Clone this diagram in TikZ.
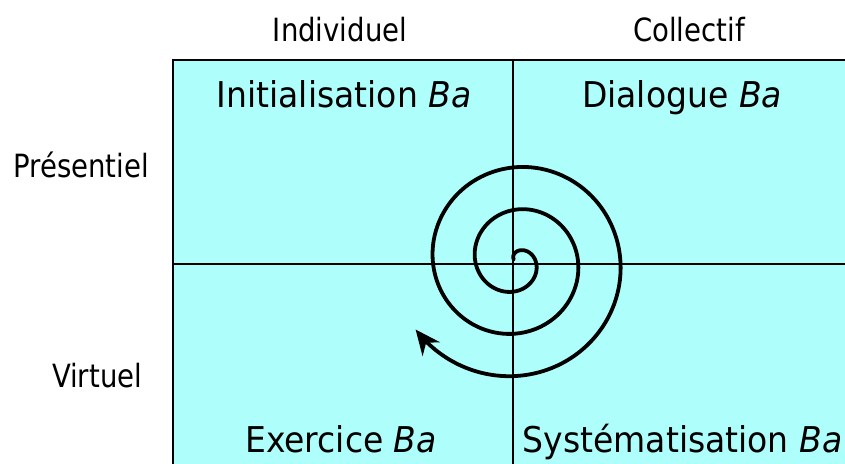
\documentclass[tikz,border=0pt]{standalone}
\usepackage{fontspec}
\setmainfont{DejaVu Sans}[FakeStretch=0.86]
\newfontfamily\quadfont{DejaVu Sans}[FakeStretch=0.93]
\usetikzlibrary{arrows.meta}
\definecolor{quadfill}{RGB}{174,255,252}
\tikzset{
  grid/.style={draw=black, line width=2.4pt},
  spiral/.style={draw=black, line width=3.8pt, line cap=round},
  head/.style={font=\fontsize{32}{36}\selectfont, anchor=base},
  quad/.style={font=\quadfont\fontsize{35.5}{40}\selectfont, anchor=base},
}
\begin{document}
\begin{tikzpicture}[x=1pt,y=-1pt]
\useasboundingbox (0,0) rectangle (845,463);
\clip (0,0) rectangle (845,463);
% quadrant box
\path[grid, fill=quadfill] (173,60) rectangle (855,470);
\coordinate (vtop) at (513,60);
\coordinate (vbot) at (513,470);
\coordinate (hleft) at (173,264);
\coordinate (hright) at (855,264);
\draw[grid] (vtop) -- (vbot);
\draw[grid] (hleft) -- (hright);
% axis labels
\node[head] (indiv) at (340,41.5) {Individuel};
\node[head] (coll) at (689,41.5) {Collectif};
\node[head] (pres) at (81,177) {Présentiel};
\node[head] (virt) at (97,387) {Virtuel};
% quadrant labels
\node[quad] (init) at (344,107.5) {Initialisation \textit{Ba}};
\node[quad] (dial) at (682,107.5) {Dialogue \textit{Ba}};
\node[quad] (exer) at (341,452.5) {Exercice \textit{Ba}};
\node[quad] (syst) at (682.5,452.5) {Systématisation \textit{Ba}};
% spiral
\draw[spiral, -{Stealth[length=25pt,width=22pt]}]
  plot[domain=-0.6:10.62, samples=300, smooth]
  ({516+(9+10.6*\x)*sin(90*\x)}, {261-(9+10.6*\x)*cos(90*\x)});
\end{tikzpicture}
\end{document}
